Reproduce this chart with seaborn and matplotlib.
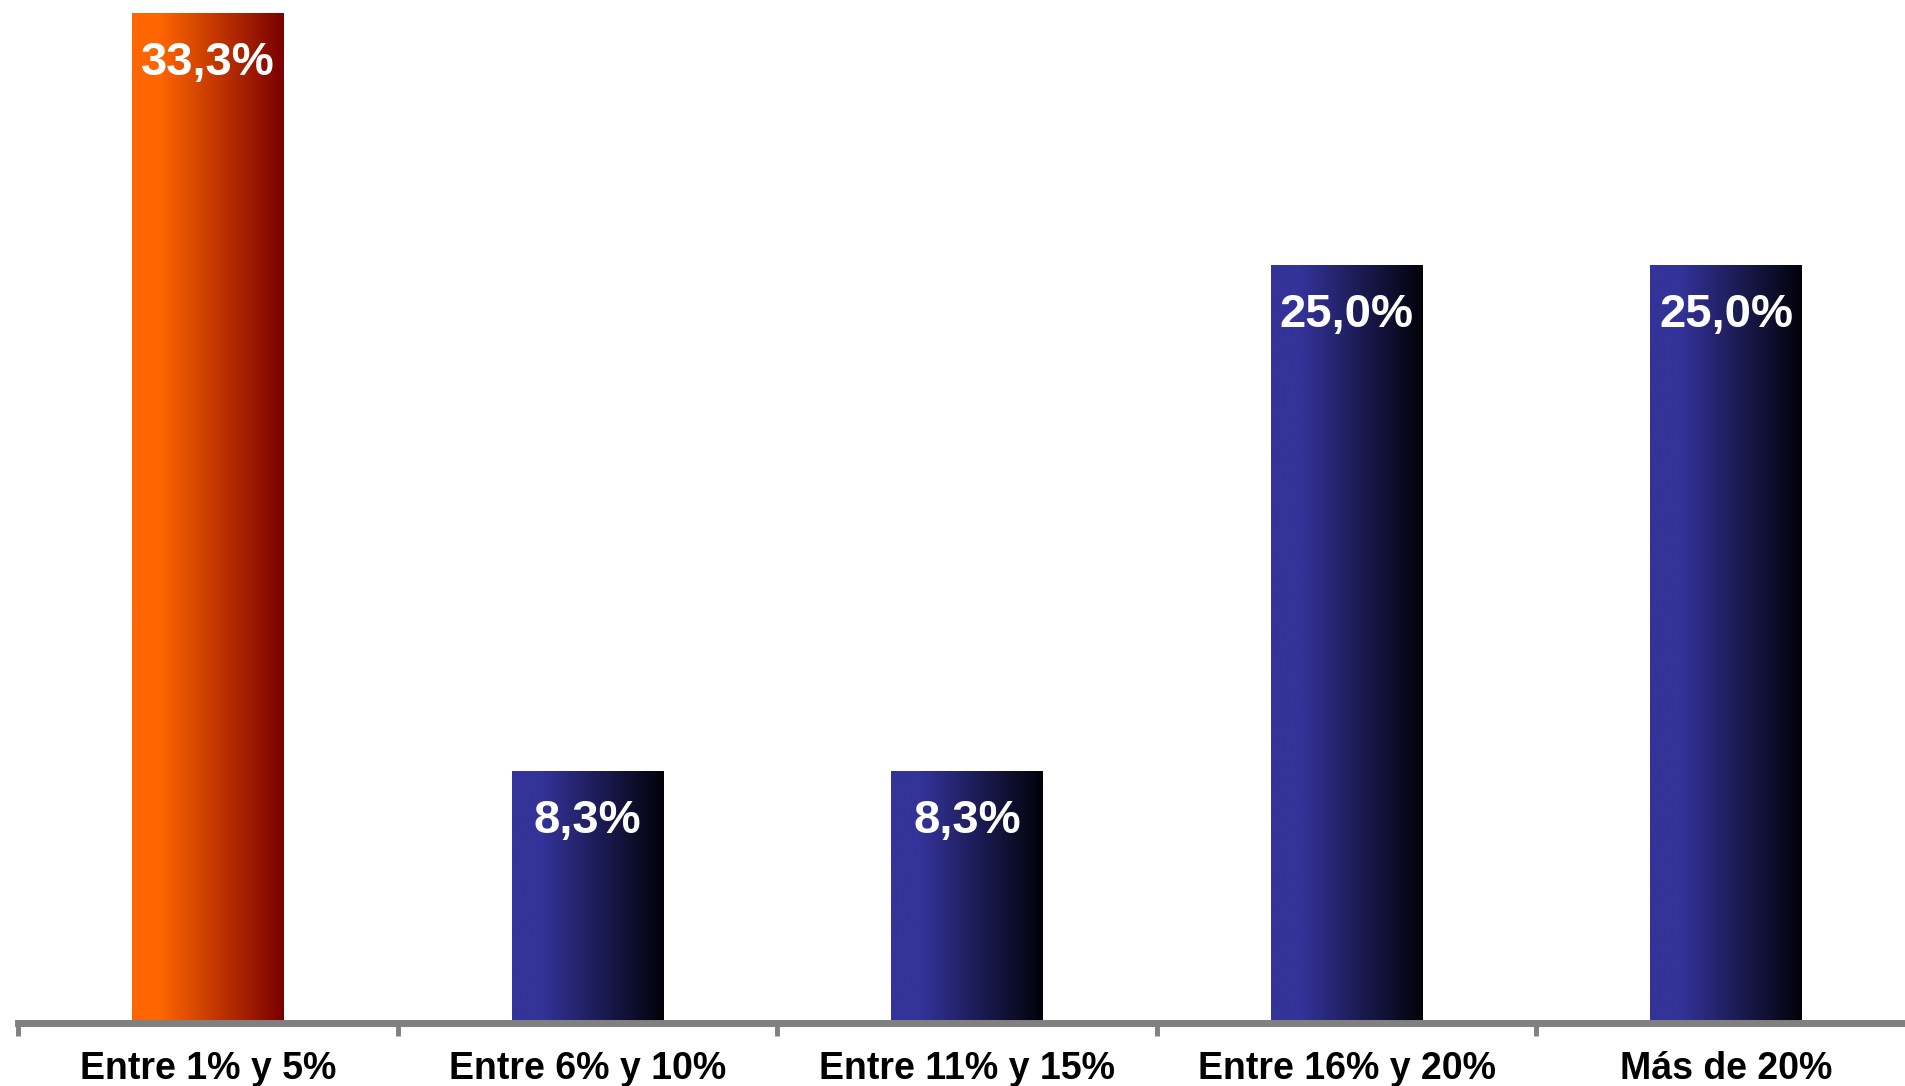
import numpy as np
import pandas as pd
import matplotlib
matplotlib.use("Agg")
import matplotlib.pyplot as plt
from matplotlib.colors import LinearSegmentedColormap
import seaborn as sns

# Data
categories = ["Entre 1% y 5%", "Entre 6% y 10%", "Entre 11% y 15%",
              "Entre 16% y 20%", "Más de 20%"]
values = [33.3, 8.3, 8.3, 25.0, 25.0]
value_labels = ["33,3%", "8,3%", "8,3%", "25,0%", "25,0%"]
highlight = [True, False, False, False, False]

df = pd.DataFrame({"categoria": categories, "valor": values})

sns.set_style("white")
plt.rcParams["font.family"] = ["Liberation Sans", "DejaVu Sans"]

fig = plt.figure(figsize=(19.05, 10.86), dpi=100)
ax = fig.add_axes([0.00957, 0.0582, 0.99617, 0.9295])

sns.barplot(data=df, x="categoria", y="valor", color="#333399",
            width=0.40, ax=ax, saturation=1)

# horizontal gradients inside each bar
orange_cmap = LinearSegmentedColormap.from_list(
    "naranja", [(0, "#FF6600"), (0.18, "#FF6600"), (1, "#7A0000")])
blue_cmap = LinearSegmentedColormap.from_list(
    "azul", [(0, "#333399"), (0.2, "#333399"), (1, "#02020A")])
grad = np.linspace(0, 1, 256).reshape(1, -1)

for patch, hl in zip(ax.patches, highlight):
    x0, y0 = patch.get_x(), patch.get_y()
    w, h = patch.get_width(), patch.get_height()
    cmap = orange_cmap if hl else blue_cmap
    patch.set_facecolor(cmap(0.0))
    patch.set_edgecolor("none")
    im = ax.imshow(grad, cmap=cmap, aspect="auto",
                   extent=(x0, x0 + w, y0, y0 + h), zorder=patch.get_zorder() + 0.1,
                   interpolation="bicubic")
    im.set_clip_path(patch)

# value labels inside the top of the bars
for i, (v, lab) in enumerate(zip(values, value_labels)):
    ax.annotate(lab, xy=(i, v), xytext=(0, -36), textcoords="offset points",
                ha="center", va="center", color="white", fontsize=34,
                fontweight="bold", zorder=5)

ax.set_xlim(-0.5, 4.5)
ax.set_ylim(0, 33.3)
ax.set_xlabel("")
ax.set_ylabel("")
ax.set_yticks([])

for s in ["top", "right", "left"]:
    ax.spines[s].set_visible(False)
ax.spines["bottom"].set_color("#808080")
ax.spines["bottom"].set_linewidth(5)
ax.spines["bottom"].set_clip_on(False)

# category labels centered, ticks at category boundaries
ax.set_xticks(range(len(categories)))
ax.set_xticklabels(categories, fontsize=27, fontweight="bold", color="black")
ax.tick_params(axis="x", which="major", bottom=True, length=0, pad=20)
ax.set_xticks(np.arange(-0.5, 5.0, 1.0), minor=True)
ax.tick_params(axis="x", which="minor", bottom=True, length=9, width=3.5,
               color="#808080", direction="out")

fig.savefig("out.png", dpi=100)
